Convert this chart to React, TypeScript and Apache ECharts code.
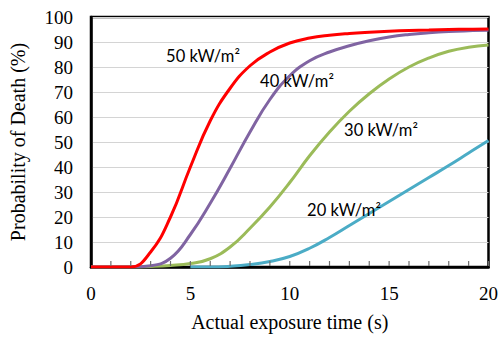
import React, { useEffect, useRef } from "react";
import * as echarts from "echarts";

const times = [0, 1, 2, 3, 4, 5, 6, 7, 8, 9, 10, 11, 12, 13, 14, 15, 16, 17, 18, 19, 20];
const flux50 = [0, 0, 0, 6, 20, 40, 58.5, 71.5, 80.5, 86, 89.6, 91.6, 92.7, 93.4, 93.9, 94.3, 94.6, 94.8, 95, 95.1, 95.2];
const flux40 = [0, 0, 0, 0.5, 3.5, 13, 25.5, 39.5, 54, 67, 76.5, 82.5, 86, 88.5, 90.5, 92, 93, 93.7, 94.2, 94.5, 94.7];
const flux30 = [0, 0, 0, 0.2, 0.6, 1.4, 3.3, 8, 15.5, 24, 33.8, 44.5, 54, 62.3, 69.3, 75.2, 80, 83.6, 86.3, 87.9, 88.8];
const flux20 = [null, null, null, null, null, 0, 0, 0.3, 1, 2.2, 4.2, 7.5, 11.8, 16.6, 21.4, 26.2, 31, 35.8, 40.6, 45.6, 50.6];
const seriesNames = ["50 kW/m²", "40 kW/m²", "30 kW/m²", "20 kW/m²"];
const seriesColors = ["#ff0000", "#8064a2", "#9bbb59", "#4bacc6"];
const xTicks = [0, 5, 10, 15, 20];
const minorTickTimes = [1, 2, 3, 4, 5, 6, 7, 8, 9, 10, 11, 12, 13, 14, 15, 16, 17, 18, 19, 20];
const yTicks = [0, 10, 20, 30, 40, 50, 60, 70, 80, 90, 100];

export default function App() {
  const ref = useRef<HTMLDivElement>(null);
  useEffect(() => {
    if (!ref.current) return;
    const chart = echarts.init(ref.current, null, { renderer: "svg" });
    const all = [flux50, flux40, flux30, flux20];
    const lineSeries = all.map((vals, i) => ({
      name: seriesNames[i],
      type: "line",
      smooth: 0.45,
      showSymbol: false,
      symbol: "none",
      z: 10 - i,
      lineStyle: { color: seriesColors[i], width: 3 },
      itemStyle: { color: seriesColors[i] },
      data: times.map((t, k) => [t, vals[k]]) as any,
    }));
    const tickSeries = {
      type: "custom",
      coordinateSystem: "cartesian2d",
      silent: true,
      clip: false,
      z: 20,
      encode: { x: 0, y: 1 },
      data: minorTickTimes.map((t) => [t, 0]),
      renderItem: (params: any, api: any) => {
        const p = api.coord([api.value(0), api.value(1)]);
        return {
          type: "line",
          shape: { x1: p[0], y1: p[1] - 1, x2: p[0], y2: p[1] - 6 },
          style: { stroke: "#6e6e6e", lineWidth: 1.2, fill: null },
        };
      },
    };
    const serif = "'Liberation Serif', 'Times New Roman', serif";
    const sans = "Lato, 'Open Sans', sans-serif";
    const lbl = (text: string, x: number, y: number) => ({
      type: "text",
      x,
      y,
      z: 100,
      style: { text, font: `16.5px ${sans}`, fill: "#000", align: "center", verticalAlign: "middle" },
    });
    chart.setOption({
      animation: false,
      grid: {
        left: 89,
        right: 12,
        top: 17,
        bottom: 68,
        show: true,
        borderColor: "#000",
        borderWidth: 2.5,
        backgroundColor: "transparent",
      },
      xAxis: {
        type: "value",
        min: xTicks[0],
        max: xTicks[xTicks.length - 1],
        interval: 5,
        name: "Actual exposure time (s)",
        nameLocation: "middle",
        nameGap: 45,
        nameTextStyle: { fontFamily: serif, fontSize: 20, color: "#000" },
        axisLine: { show: true, lineStyle: { color: "#000", width: 2.5 } },
        axisTick: { show: false },
        splitLine: { show: false },
        axisLabel: { fontFamily: serif, fontSize: 19, color: "#000", margin: 17 },
      },
      yAxis: {
        type: "value",
        min: yTicks[0],
        max: yTicks[yTicks.length - 1],
        interval: 10,
        name: "Probability of Death (%)",
        nameLocation: "middle",
        nameGap: 63,
        nameRotate: 90,
        nameTextStyle: { fontFamily: serif, fontSize: 20, color: "#000" },
        axisLine: { show: true, lineStyle: { color: "#000", width: 2.5 } },
        axisTick: { show: false },
        splitLine: { show: true, lineStyle: { color: "#d4d4d4", width: 1 } },
        axisLabel: { fontFamily: serif, fontSize: 19, color: "#000", margin: 18 },
      },
      series: [...lineSeries, tickSeries],
      graphic: [
        lbl(seriesNames[0], 203, 56),
        lbl(seriesNames[1], 297, 81),
        lbl(seriesNames[2], 381, 130),
        lbl(seriesNames[3], 344, 210),
      ],
    });
    return () => chart.dispose();
  }, []);
  return <div ref={ref} style={{ width: 501, height: 337, position: "absolute", left: 0, top: 0 }} />;
}
